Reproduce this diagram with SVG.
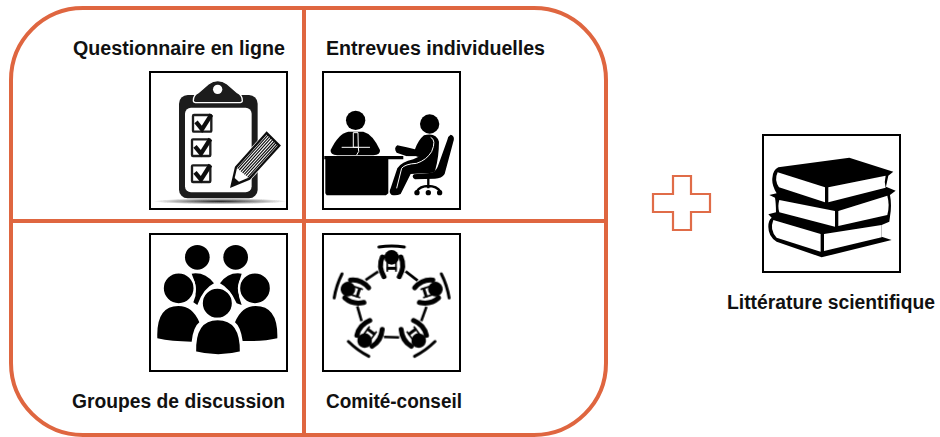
<svg xmlns="http://www.w3.org/2000/svg" width="940" height="437" viewBox="0 0 940 437">
<style>
.o{fill:none;stroke:#DF6640;stroke-width:4}
.f{fill:#fff;stroke:#000;stroke-width:2}
.t{font-family:"Liberation Sans",Arial,sans-serif;font-weight:700;font-size:20px;fill:#111}
.s{font-size:19.4px}
.w{fill:none;stroke:#fff;stroke-width:3}
.i{filter:url(#soft)}
.g{stroke:#fff;stroke-width:7}
</style>
<defs>
<filter id="soft" x="-5%" y="-5%" width="110%" height="110%"><feGaussianBlur stdDeviation="0.4"/></filter>
<radialGradient id="sh"><stop offset="0" stop-color="#222"/><stop offset="1" stop-color="#222" stop-opacity="0"/></radialGradient>
<g id="seat">
<path d="M717 66Q755 60 793 66" fill="none" stroke="#000" stroke-width="9" stroke-linecap="round"/>
<circle cx="755" cy="97" r="22" fill="#000"/>
<path d="M727 96Q714 125 732 155M783 96Q796 125 778 155" fill="none" stroke="#000" stroke-width="15" stroke-linecap="round"/>
<path d="M740 130H770" stroke="#000" stroke-width="9" fill="none"/>
<path d="M742 112V140M768 112V140" stroke="#000" stroke-width="5" fill="none"/>
<path d="M797 139L833 167" stroke="#000" stroke-width="8" fill="none"/>
</g>
</defs>
<g id="panel">
<rect class="o" x="11" y="8" width="595" height="427" rx="72"/>
</g>
<g id="connectors">
<path class="o" d="M304 8V435M11 221H606"/>
</g>
<g id="questionnaire">
<text class="t" x="73" y="55" textLength="212" lengthAdjust="spacingAndGlyphs">Questionnaire en ligne</text>
<rect class="f" x="150" y="72" width="137" height="137"/>
<g class="i" transform="translate(140 60) scale(.3333)">
<ellipse cx="240" cy="424" rx="200" ry="9" fill="url(#sh)"/>
<rect x="117" y="105" width="236" height="310" rx="26" fill="#1c1c1c"/>
<rect x="135" y="143" width="200" height="254" rx="18" fill="#fff"/>
<path d="M160 122Q160 105 175 98L205 72Q233 52 262 72L292 98Q307 105 307 122Q307 128 295 128H172Q160 128 160 122Z" fill="#1c1c1c" stroke="#fff" stroke-width="4"/>
<circle cx="233" cy="88" r="14" fill="#fff"/>
<g fill="#fff" stroke="#1c1c1c" stroke-width="7">
<rect x="159" y="165" width="55" height="50" rx="3"/>
<rect x="156" y="238" width="55" height="50" rx="3"/>
<rect x="156" y="316" width="55" height="50" rx="3"/>
</g>
<g fill="none" stroke="#111" stroke-width="13">
<path d="M168 186L186 208L214 164"/>
<path d="M165 259L183 281L211 237"/>
<path d="M165 337L183 359L211 315"/>
</g>
<path d="M268 385L283 318L380 212L425 257L332 360Z" fill="#fff"/>
<path d="M275 378L288 322L380 219L418 257L328 356Z" fill="#fff" stroke="#111" stroke-width="7"/>
<path d="M275 378L280 350L300 368Z" fill="#111"/>
<path d="M293 326L385 224M298 330L389.500 228.500M303 335L394 233M308 339L399 238M313 343L404 243M318 347L408.500 247.500M323 352L413 252" stroke="#111" stroke-width="3.500" fill="none"/>
</g>
</g>
<g id="entrevues">
<text class="t" x="326" y="55" textLength="219" lengthAdjust="spacingAndGlyphs">Entrevues individuelles</text>
<rect class="f" x="323" y="72" width="137" height="137"/>
<g class="i" transform="translate(140 60) scale(.3333)">
<circle cx="647" cy="181" r="29"/>
<path d="M572 270Q596 220 625 215H670Q698 222 720 270Q722 285 700 286H592Q570 285 572 270Z"/>
<path d="M640 218H654L655 262H640ZM605 262H690M655 262Q660 275 650 285" fill="none" stroke="#fff" stroke-width="3"/>
<path d="M553 288H790V298H745V400L738 406H560L556 400V298H553Z"/>
<circle cx="869" cy="192" r="29"/>
<path d="M852 226Q888 216 897 245Q897 290 886 330L882 338L812 342L782 402Q770 408 755 405Q745 398 752 385L772 325Q785 305 820 298L836 290H805L770 278Q760 265 772 256L800 262L825 268Q835 240 852 226Z"/>
<path d="M872 232Q890 240 875 275Q860 300 830 310Q795 312 785 325L770 385" class="w"/>
<path d="M800 290H830" class="w"/>
<path d="M932 224Q946 228 940 245Q928 290 914 342Q905 356 885 356L825 358Q813 350 822 343L878 338Q890 333 897 310L922 240Q924 228 932 224Z"/>
<path d="M865 354V385M830 395Q840 378 865 378Q890 378 902 395" fill="none" stroke="#000" stroke-width="7"/>
<circle cx="831" cy="398" r="8"/><circle cx="865" cy="398" r="8"/><circle cx="899" cy="398" r="8"/>
</g>
</g>
<g id="groupes">
<text class="t" x="72" y="408" textLength="213" lengthAdjust="spacingAndGlyphs">Groupes de discussion</text>
<rect class="f" x="150" y="234" width="137" height="137"/>
<g class="i" transform="translate(140 225) scale(.3333)">
<circle cx="172" cy="97" r="37"/><circle cx="287" cy="97" r="37"/>
<path d="M155 146Q195 140 222 175Q190 190 172 240L160 232Q178 195 155 146Z"/>
<path d="M305 146Q265 140 240 175Q270 190 290 235L305 240Q285 195 305 146Z"/>
<circle class="g" cx="116" cy="190" r="48"/><circle class="g" cx="345" cy="190" r="48"/>
<path d="M52 340Q48 243 115 243Q158 243 178 292Q160 305 155 350Q95 350 52 340Z"/>
<path d="M412 340Q415 243 347 243Q305 243 285 292Q302 305 308 348Q370 350 412 340Z"/>
<circle class="g" cx="232" cy="235" r="47"/>
<path class="g" d="M165 382Q162 282 233 282Q305 282 303 382Q235 400 165 382Z"/>
</g>
</g>
<g id="comite">
<text class="t" x="326" y="408" textLength="136" lengthAdjust="spacingAndGlyphs">Comité-conseil</text>
<rect class="f" x="323" y="234" width="137" height="137"/>
<g class="i" transform="translate(140 225) scale(.3333)">
<use href="#seat"/>
<use href="#seat" transform="rotate(72 755 235)"/>
<use href="#seat" transform="rotate(144 755 235)"/>
<use href="#seat" transform="rotate(216 755 235)"/>
<use href="#seat" transform="rotate(288 755 235)"/>
</g>
</g>
<g id="plus">
<path d="M673 176H691V194H710V212H691V230H673V212H653V194H673Z" fill="#fff" stroke="#E06C48" stroke-width="2.200"/>
</g>
<g id="litterature">
<rect class="f" x="763" y="135" width="137" height="137"/>
<text class="t s" x="727" y="309" textLength="208" lengthAdjust="spacingAndGlyphs">Littérature scientifique</text>
<g class="i" transform="translate(640 125) scale(.3333)">
<path d="M415 127L628 98L760 140L745 152L738 185L767 197L750 210Q756 240 750 275L748 290L725 300V335L755 345L545 397L410 350Q385 335 385 305Q385 285 395 278L385 268L408 262Q408 235 405 218L388 210L410 205Q395 180 397 160Q398 135 415 127Z"/>
<g fill="#fff">
<path d="M413 142Q402 165 417 187L555 232V187Z"/>
<path d="M565 187L737 152Q732 170 737 188L565 232Z"/>
<path d="M418 225Q412 245 418 262L585 305V258Z"/>
<path d="M595 258L742 212Q750 240 742 270L595 303Z"/>
<path d="M400 285Q388 315 410 338L542 380V327Z"/>
<path d="M552 327L725 300V337L552 378Z"/>
</g>
</g>
</g>
</svg>
